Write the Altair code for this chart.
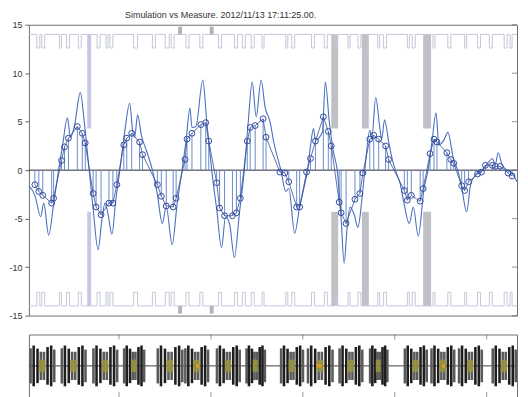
import altair as alt
import pandas as pd

TITLE = "Simulation vs Measure. 2012/11/13 17:11:25.00."
TITLE_X = 222

# ---------- top panel data ----------
sim_x = [28, 34, 40, 43, 48, 53, 58, 62, 67, 70, 74, 80, 84, 87, 89, 93, 98, 102, 105, 108,
         112, 116, 120, 125, 130, 133, 135, 138, 142, 147, 153, 158, 163, 167, 173, 178, 183, 187, 191, 193,
         197, 204, 208, 211, 213, 218, 223, 227, 231, 236, 241, 246, 250, 254, 258, 263, 267, 272, 276, 283,
         288, 291, 297, 302, 306, 310, 313, 316, 318, 325, 328, 332, 336, 340, 344, 347, 350, 353, 357, 361,
         365, 368, 373, 375, 379, 383, 385, 388, 392, 396, 400, 404, 407, 413, 417, 422, 428, 432, 436, 440,
         443, 448, 452, 458, 462, 466, 471, 475, 480, 487, 493, 497, 500, 503, 507, 512, 517, 522]
sim_y = [-1.6, -2.6, -4.8, -3.4, -6.7, -3.5, 0, 2.5, 5.4, 3.4, 4.5, 8.0, 5.0, 2.0, 0, -4, -8.2, -5, -3.4, -4.5,
         -6.6, -3, 0, 4, 6.9, 4, 3.4, 5.7, 3.5, 2, 0, -2.5, -5.5, -3.8, -7.7, -3.5, 0, 3, 6.4, 4.4,
         4.5, 9.3, 5, 2, 0, -4, -8.0, -4.8, -5.5, -9.0, -4.5, 0, 5, 9.1, 5.5, 9.3, 6.5, 5.0, 2.8, 0,
         -2.2, -1.9, -6.5, -3.8, -2, 0, 2.5, 4.3, 3.1, 3.9, 9.1, 5, 2, 0, -5, -9.6, -6, -3.8, -4.5, -5.9,
         -3, 0, 4.1, 3.2, 7.5, 4.5, 3.2, 5.2, 3, 1, -0.3, -1.5, -3.1, -5.5, -3.8, -6.8, -1.8, 0, 3, 5.9,
         2.6, 3.1, 3.9, 1.0, 0, -1.8, -4.3, -1.5, -0.5, 0, 0.8, 1.2, 0.6, 1.8, 0.5, 0, -0.3, -1.2]

meas_x = [34, 38, 42, 51, 53, 61, 64, 68, 77, 82, 85, 93, 96, 101, 109, 113, 117, 124, 127, 132, 140, 143,
          158, 162, 167, 174, 177, 186, 188, 193, 202, 207, 210, 218, 221, 226, 234, 238, 242, 249, 252, 257,
          265, 268, 282, 287, 291, 299, 302, 309, 313, 318, 326, 331, 334, 342, 344, 349, 358, 363, 366, 373,
          377, 382, 389, 392, 408, 411, 415, 424, 427, 434, 438, 441, 451, 455, 458, 466, 469, 473, 482, 486,
          490, 497, 500, 505, 513, 517]
meas_y = [-1.5, -2.2, -2.6, -3.4, -2.9, 1.0, 2.4, 3.3, 4.5, 3.8, 2.8, -2.4, -3.8, -4.6, -3.4, -3.4, -1.5, 2.6, 3.3, 3.8, 2.9, 1.6,
          -1.5, -2.7, -3.7, -3.8, -2.9, 1.1, 3.2, 3.8, 4.7, 4.9, 3.0, -1.3, -3.9, -4.7, -4.7, -4.4, -2.9, 3.0, 4.4, 4.6,
          5.3, 3.4, -0.2, -0.3, -1.2, -3.8, -3.8, -0.2, 1.2, 3.0, 5.5, 4.0, 2.5, -3.3, -4.4, -5.5, -3.0, -2.4, -0.3, 3.2,
          3.6, 3.2, 2.5, 1.1, -2.1, -3.1, -2.6, -3.2, -1.9, 1.7, 3.2, 2.9, 1.8, 1.1, 0.7, -1.6, -2.1, -1.2, -0.4, -0.2,
          0.5, 0.5, 0.4, 0.4, -0.3, -0.6]

pulse_on = [36, 41, 59, 66, 78, 97, 106, 110, 134, 153, 166, 172, 187, 201, 220, 236, 244, 253, 264,
            288, 294, 314, 327, 337, 351, 361, 381, 387, 411, 416, 437, 452, 469, 482, 494, 509, 515]
pulse_off = [39, 44, 61, 69, 81, 100, 108, 113, 138, 156, 170, 175, 190, 204, 223, 239, 247, 256, 266,
             290, 297, 317, 330, 340, 353, 364, 383, 390, 413, 419, 439, 455, 471, 485, 497, 512, 517]
pulse_high = 14.0
pulse_low = 12.6

lav_start, lav_end = [87], [91]
gray_start = [334, 365, 427]
gray_end = [341, 372, 435]
gap_inner = 4.3
flag_start = [179, 211]
flag_end = [183, 215]
flag_outer = 14.8

y_ticks = [-15, -10, -5, 0, 5, 10, 15]
X_MIN, X_MAX = 28, 522

# ---------- bottom panel data ----------
cl_start = [1.2, 18.2, 35.4, 52.1, 70.4, 85.4, 102.6, 118.7, 137.5, 152.1, 169.3, 185.9, 204.8, 219.3, 234.3, 252.6]
cl_width = [14, 14, 14, 11.8, 14.5, 13.4, 13.4, 10.8, 12.9, 14.5, 13.4, 10.2, 12.9, 13.4, 13.4, 13.6]
bar_frac = [0.0, 0.12, 0.27, 0.40, 0.52, 0.66, 0.80, 0.92]
bar_half = [0.56, 0.65, 0.55, 0.45, 0.45, 0.60, 0.65, 0.52]
bar_dark = [False, True, True, False, False, True, True, False]
bar_w = 1.4
olive_lo, olive_hi, olive_half = 0.37, 0.63, 0.2
orange_start = [91.9, 157.5, 225.7]
orange_end = [93.6, 160.2, 227.4]
x2_ticks = [50, 100, 150, 200, 250]

assert len(sim_x) == len(sim_y), (len(sim_x), len(sim_y))
assert len(meas_x) == len(meas_y), (len(meas_x), len(meas_y))
assert len(pulse_on) == len(pulse_off)

# ---------- tables ----------
sim_df = pd.DataFrame({"x": sim_x, "y": sim_y})
meas_df = pd.DataFrame({"x": meas_x, "y": meas_y})

prow = []
for side, s in (("top", 1), ("bot", -1)):
    k = 0
    prow.append({"side": side, "i": k, "x": X_MIN, "y": s * pulse_high}); k += 1
    for a, b in zip(pulse_on, pulse_off):
        for xx, yy in ((a, pulse_high), (a, pulse_low), (b, pulse_low), (b, pulse_high)):
            prow.append({"side": side, "i": k, "x": xx, "y": s * yy}); k += 1
    prow.append({"side": side, "i": k, "x": X_MAX, "y": s * pulse_high})
pulse_df = pd.DataFrame(prow)


def gap_table(starts, ends):
    rows = []
    for a, b in zip(starts, ends):
        rows.append({"x": a, "x2": b, "y": pulse_high, "y2": gap_inner})
        rows.append({"x": a, "x2": b, "y": -gap_inner, "y2": -pulse_high})
    return pd.DataFrame(rows)


lav_df = gap_table(lav_start, lav_end)
gray_df = gap_table(gray_start, gray_end)

frow = []
for a, b in zip(flag_start, flag_end):
    frow.append({"x": a, "x2": b, "y": pulse_high, "y2": flag_outer})
    frow.append({"x": a, "x2": b, "y": -pulse_high, "y2": -flag_outer})
flag_df = pd.DataFrame(frow)

tick_df = pd.DataFrame({"v": y_ticks})

xs = alt.Scale(domain=[X_MIN, X_MAX], nice=False, zero=False)
ys = alt.Scale(domain=[-15, 15], nice=False, zero=False)
yaxis = alt.Axis(values=y_ticks, ticks=True, tickSize=4, tickColor="#666", domain=False, grid=False,
                 labelFontSize=9, labelFont="Liberation Sans", labelColor="#333", labelPadding=3, title=None,
                 labelExpr="toString(datum.value)")


def X(f="x"):
    return alt.X(f"{f}:Q", scale=xs, axis=None)


def Y(f="y"):
    return alt.Y(f"{f}:Q", scale=ys, axis=yaxis)


lav = alt.Chart(lav_df).mark_rect(color="#c6c7e4").encode(x=X(), x2="x2:Q", y=Y(), y2="y2:Q")
gray = alt.Chart(gray_df).mark_rect(color="#c0c0c7").encode(x=X(), x2="x2:Q", y=Y(), y2="y2:Q")
flags = alt.Chart(flag_df).mark_rect(color="#b2b2bc").encode(x=X(), x2="x2:Q", y=Y(), y2="y2:Q")
pulses = alt.Chart(pulse_df).mark_line(color="#c4c8d8", strokeWidth=1).encode(
    x=X(), y=Y(), detail="side:N", order="i:Q")
zero = alt.Chart(pd.DataFrame({"z": [0]})).mark_rule(color="#2a2a3a", strokeWidth=1).encode(y=Y("z"))
stems = alt.Chart(meas_df).mark_rule(color="#6a8ccc", strokeWidth=1).encode(x=X(), y=Y(), y2=alt.datum(0))
sim = alt.Chart(sim_df).mark_line(color="#4a6fc0", strokeWidth=1.1, interpolate="monotone").encode(x=X(), y=Y())
meas_line = alt.Chart(meas_df).mark_line(color="#3b4f8f", strokeWidth=0.8).encode(x=X(), y=Y())
circles = alt.Chart(meas_df).mark_point(shape="circle", filled=False, size=34, color="#2e4aa0",
                                        strokeWidth=1, opacity=1).encode(x=X(), y=Y())
rticks = alt.Chart(tick_df).mark_tick(orient="horizontal", size=5, xOffset=-2.5, color="#666",
                                      thickness=1).encode(x=alt.datum(X_MAX), y=Y("v"))
title = alt.Chart(pd.DataFrame({"t": [TITLE]})).mark_text(
    fontSize=9, font="Liberation Sans", color="#333", align="center", baseline="middle"
).encode(text="t:N", x=alt.datum(TITLE_X), y=alt.value(-10))

top = alt.layer(lav, gray, flags, pulses, zero, stems, sim, meas_line, circles, rticks, title).properties(
    width=490, height=292)

# ---------- bottom panel ----------
brow = []
orow = []
for s, w in zip(cl_start, cl_width):
    for f, h, d in zip(bar_frac, bar_half, bar_dark):
        x0 = s + f * w
        brow.append({"x": x0, "x2": x0 + bar_w, "y": -h, "y2": h, "dark": d})
    orow.append({"x": s + olive_lo * w, "x2": s + olive_hi * w, "y": -olive_half, "y2": olive_half})
bars_df = pd.DataFrame(brow)
olive_df = pd.DataFrame(orow)
orange_df = pd.DataFrame({"x": orange_start, "x2": orange_end, "y": [-0.05] * 3, "y2": [0.05] * 3})
xt_df = pd.DataFrame({"v": x2_ticks})

bxs = alt.Scale(domain=[1, 266.5], nice=False, zero=False)
bys = alt.Scale(domain=[-1, 1], nice=False, zero=False)
bxaxis = alt.Axis(values=x2_ticks, ticks=False, domain=False, grid=False, labelFontSize=9,
                  labelFont="Liberation Sans", labelColor="#333", labelPadding=3, title=None)


def BX(f="x"):
    return alt.X(f"{f}:Q", scale=bxs, axis=bxaxis)


def BY(f="y"):
    return alt.Y(f"{f}:Q", scale=bys, axis=None)


center = alt.Chart(pd.DataFrame({"z": [0]})).mark_rule(color="#4a3a4a", strokeWidth=1).encode(y=BY("z"))
bars_g = alt.Chart(bars_df).transform_filter("!datum.dark").mark_rect(color="#5a5a5a").encode(
    x=BX(), x2="x2:Q", y=BY(), y2="y2:Q")
bars_k = alt.Chart(bars_df).transform_filter("datum.dark").mark_rect(color="#1e1e1e").encode(
    x=BX(), x2="x2:Q", y=BY(), y2="y2:Q")
olive = alt.Chart(olive_df).mark_rect(color="#9a9640", opacity=0.85).encode(x=BX(), x2="x2:Q", y=BY(), y2="y2:Q")
orange = alt.Chart(orange_df).mark_rect(color="#e89a1c").encode(x=BX(), x2="x2:Q", y=BY(), y2="y2:Q")
tt = alt.Chart(xt_df).mark_tick(orient="vertical", size=5, yOffset=2.5, color="#666", thickness=1).encode(
    x=BX("v"), y=alt.datum(1))
bt = alt.Chart(xt_df).mark_tick(orient="vertical", size=5, yOffset=-2.5, color="#666", thickness=1).encode(
    x=BX("v"), y=alt.datum(-1))

bottom = alt.layer(center, bars_g, bars_k, olive, orange, tt, bt).properties(width=490, height=63)

chart = alt.vconcat(top, bottom, spacing=12).properties(
    padding={"left": 0, "top": 1, "right": 0, "bottom": 0},
    background="white",
).configure_view(stroke="#707070", strokeWidth=1).configure_axis(grid=False)

chart.save("out.html", embed_options={"renderer": "svg", "actions": False})
